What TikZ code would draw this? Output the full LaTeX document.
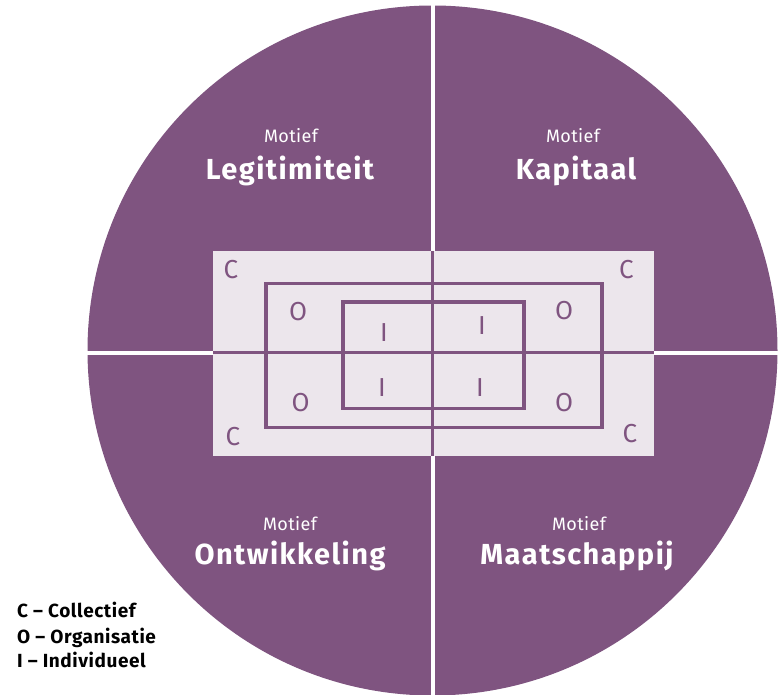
\documentclass[tikz,border=0pt]{standalone}
\usepackage{fontspec}
\setmainfont{Fira Sans}
\usepackage{tikz}
\definecolor{paars}{HTML}{7F5480}
\definecolor{licht}{HTML}{ECE6EC}

\begin{document}
\begin{tikzpicture}[x=1pt, y=-1pt,
    motief/.style = {text=white, font=\fontsize{18}{20}\selectfont\addfontfeatures{LetterSpace=2}, anchor=base},
    titel/.style = {text=white, font=\fontsize{29}{31}\selectfont\bfseries\addfontfeatures{LetterSpace=5}, anchor=base},
    letter/.style = {text=paars, font=\fontsize{26}{28}\selectfont, anchor=base},
    kader/.style = {draw=paars, line width=3.5pt},
    legenda/.style = {text=black, inner sep=0pt, font=\fontsize{19}{21}\selectfont\bfseries\addfontfeatures{LetterSpace=3}, anchor=base west}]

    \useasboundingbox (0,0) rectangle (780,695);

    % cirkel en kwadranten
    \fill[paars] (432.5,350.5) circle (345pt);
    \draw[white, line width=4pt] (432.5,0) -- (432.5,700);
    \draw[white, line width=4pt] (80,353) -- (790,353);

    % rechthoeken C, O, I
    \fill[licht] (213,251) rectangle (654,456);
    \draw[paars, line width=3pt] (432.5,251) -- (432.5,456);
    \draw[paars, line width=3pt] (213,353) -- (654,353);
    \draw[kader] (266,283.5) rectangle (602,427.5);
    \draw[kader] (343,302) rectangle (524,408.5);

    % motieven
    \node[motief] (m1) at (291,143) {Motief};
    \node[titel]  (t1) at (290,180) {Legitimiteit};
    \node[motief] (m2) at (573,143) {Motief};
    \node[titel]  (t2) at (576,180) {Kapitaal};
    \node[motief] (m3) at (290,530) {Motief};
    \node[titel]  (t3) at (290,564) {Ontwikkeling};
    \node[motief] (m4) at (579,530) {Motief};
    \node[titel]  (t4) at (577,564) {Maatschappij};

    % letters
    \node[letter] (c1) at (231,279) {C};
    \node[letter] (c2) at (626.5,279) {C};
    \node[letter] (c3) at (233,445) {C};
    \node[letter] (c4) at (630,442) {C};
    \node[letter] (o1) at (298,320.5) {O};
    \node[letter] (o2) at (564,320) {O};
    \node[letter] (o3) at (300.5,411.5) {O};
    \node[letter] (o4) at (564,411.5) {O};
    \node[letter] (i1) at (384,341.5) {I};
    \node[letter] (i2) at (482,335) {I};
    \node[letter] (i3) at (382,396.5) {I};
    \node[letter] (i4) at (480,396.5) {I};

    % legenda
    \node[legenda] (l1) at (17,617) {C – Collectief};
    \node[legenda] (l2) at (17,643) {O – Organisatie};
    \node[legenda] (l3) at (17,667) {I – Individueel};

\end{tikzpicture}
\end{document}
